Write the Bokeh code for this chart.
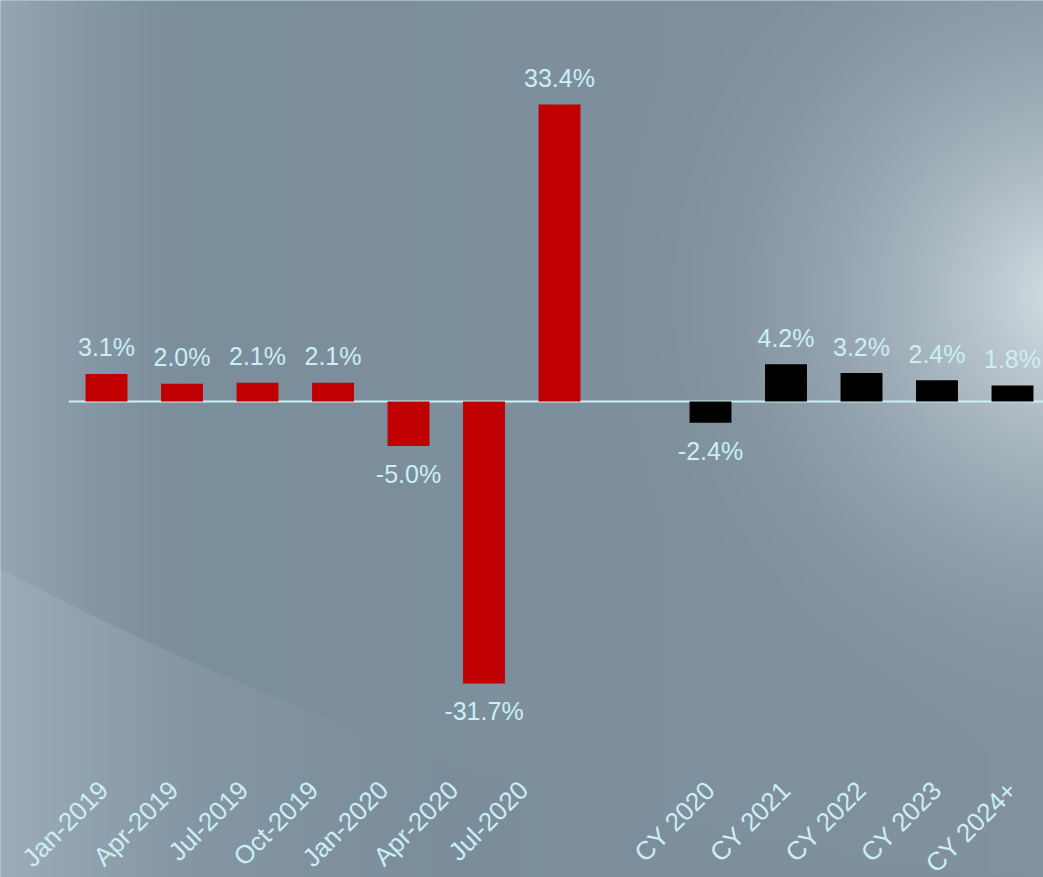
import numpy as np
from math import pi
from bokeh.plotting import figure
from bokeh.models import Range1d, ColumnDataSource
from bokeh.core.properties import value
from bokeh.embed import file_html
from bokeh.resources import INLINE

# ---- data ----
quarters = ["Jan-2019", "Apr-2019", "Jul-2019", "Oct-2019", "Jan-2020", "Apr-2020", "Jul-2020"]
quarter_values = [3.1, 2.0, 2.1, 2.1, -5.0, -31.7, 33.4]
years = ["CY 2020", "CY 2021", "CY 2022", "CY 2023", "CY 2024+"]
year_values = [-2.4, 4.2, 3.2, 2.4, 1.8]

# ---- layout ----
W, H = 1043, 877
slot_px = 75.5
left_px = 68.25
unit_px = 8.892
zero_px = 401

x0 = -0.5 - left_px / slot_px
x1 = x0 + W / slot_px
y1 = zero_px / unit_px
y0 = -(H - zero_px) / unit_px

q_pos = np.arange(len(quarters), dtype=float)
y_pos = len(quarters) + 1 + np.arange(len(years), dtype=float)

RED = "#C00000"
TXT = "#CBEFF4"
FONT = "Liberation Sans"

p = figure(width=W, height=H, x_range=Range1d(x0, x1), y_range=Range1d(y0, y1),
           output_backend="svg", toolbar_location=None, min_border=0)
p.axis.visible = False
p.grid.visible = False
p.outline_line_color = None
p.background_fill_color = "#7B8F9C"
p.border_fill_color = "#7B8F9C"

# ---- background gradient image ----
yy, xx = np.mgrid[0:H, 0:W].astype(float)
base = np.array([123, 142, 156], dtype=float)
img = np.ones((H, W, 3)) * base
# greyer towards right
f = np.clip(xx / W, 0, 1) ** 1.5 * 0.5
img = img * (1 - f[..., None]) + np.array([136, 150, 160]) * f[..., None]
# left edge light
f = np.clip(1 - xx / 200, 0, 1) ** 1.6 * 0.6
img = img * (1 - f[..., None]) + np.array([168, 184, 195]) * f[..., None]
# radial glow right
r = np.sqrt((xx - 1070) ** 2 + (yy - 295) ** 2)
f = np.clip(1 - r / 470, 0, 1) ** 2.0
img = img * (1 - f[..., None]) + np.array([215, 225, 231]) * f[..., None]
# lower-left swoosh (smooth curve)
cx = np.array([0, 200, 400, 560, 927], dtype=float)
cy = np.array([567, 667, 743, 792, 867], dtype=float)
coef = np.polyfit(cx, cy, 2)
curve = np.polyval(coef, xx)
below = yy > curve
f = np.where(below, np.clip(1 - xx / 450, 0, 1) ** 1.3 * 0.5, 0.0)
img = img * (1 - f[..., None]) + np.array([170, 186, 197]) * f[..., None]
f = np.where(below, 0.06, 0.0)
img = img * (1 - f[..., None]) + np.array([100, 120, 135]) * f[..., None]

rgba = np.zeros((H, W), dtype=np.uint32)
view = rgba.view(dtype=np.uint8).reshape((H, W, 4))
view[..., 0] = img[..., 0].clip(0, 255).astype(np.uint8)
view[..., 1] = img[..., 1].clip(0, 255).astype(np.uint8)
view[..., 2] = img[..., 2].clip(0, 255).astype(np.uint8)
view[..., 3] = 255
rgba = rgba[::-1]
p.image_rgba(image=[rgba], x=x0, y=y0, dw=x1 - x0, dh=y1 - y0)

# ---- zero line ----
p.segment(x0=[-0.5], y0=[0], x1=[x1], y1=[0], line_color=TXT, line_width=2)

# ---- bars ----
bw = 0.555
p.vbar(x=q_pos, top=quarter_values, bottom=0, width=bw, fill_color=RED, line_color=None)
p.vbar(x=y_pos, top=year_values, bottom=0, width=bw, fill_color="#000000", line_color=None)

# ---- value labels ----
all_pos = list(q_pos) + list(y_pos)
all_vals = quarter_values + year_values
lab = ColumnDataSource(dict(
    x=all_pos, y=all_vals,
    t=[f"{v:.1f}%" for v in all_vals],
    off=[-26.5 if v >= 0 else 28 for v in all_vals],
))
p.text(x="x", y="y", text="t", y_offset="off", source=lab,
       text_align="center", text_baseline="alphabetic",
       text_font=value(FONT), text_font_size="25px", text_color=TXT)

# ---- category labels ----
lab_y = (zero_px - 785) / unit_px
qx = [i * 70 / slot_px + (103 - left_px) / slot_px - 0.5 for i in range(len(quarters))]
yx = [pos - 0.0 for pos in y_pos]
cat = ColumnDataSource(dict(x=qx + yx, y=[lab_y] * (len(quarters) + len(years)), t=quarters + years))
p.text(x="x", y="y", text="t", source=cat, angle=pi / 4,
       text_align="right", text_baseline="middle",
       text_font=value(FONT), text_font_size="26px", text_color=TXT)

open("out.html", "w").write(file_html(p, INLINE))
